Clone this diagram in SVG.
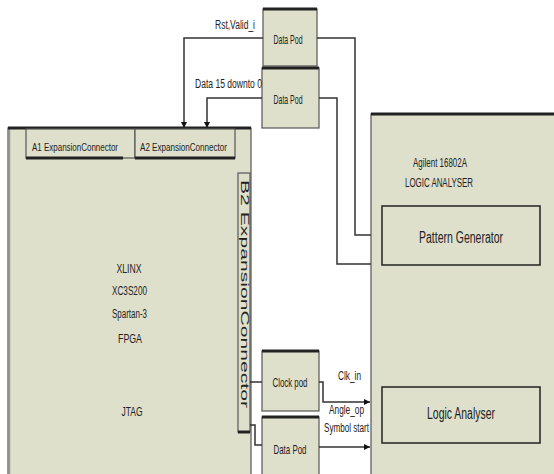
<svg xmlns="http://www.w3.org/2000/svg" width="554" height="474" viewBox="0 0 554 474">
<defs>
<marker id="arr" viewBox="0 0 10 10" refX="10" refY="5" markerWidth="6" markerHeight="8" markerUnits="userSpaceOnUse" orient="auto">
<path d="M0,0 L10,5 L0,10 z" fill="#111"/>
</marker>
</defs>
<style>
.box{fill:#dfe0cb;stroke:#555;stroke-width:1.2}
.inner{fill:#dfe0cb;stroke:#222;stroke-width:1.5}
.top{stroke:#222;stroke-width:3}
.t{font-family:"Liberation Sans",Arial,sans-serif;fill:#222}
.c{stroke:#333;stroke-width:1.5;fill:none}
</style>
<rect width="554" height="474" fill="#fff"/>

<g id="fpga">
<rect class="box" x="8" y="128" width="243" height="350"/>
<line x1="9.5" y1="128" x2="9.5" y2="474" stroke="#999" stroke-width="1.5"/>
<line class="top" x1="8" y1="128" x2="251" y2="128" stroke-width="2"/>
<text class="t" x="129" y="273" font-size="12" text-anchor="middle" textLength="25" lengthAdjust="spacingAndGlyphs">XLINX</text>
<text class="t" x="112" y="295" font-size="12" textLength="35" lengthAdjust="spacingAndGlyphs">XC3S200</text>
<text class="t" x="112" y="318" font-size="12" textLength="35" lengthAdjust="spacingAndGlyphs">Spartan-3</text>
<text class="t" x="130" y="343" font-size="12" text-anchor="middle" textLength="24" lengthAdjust="spacingAndGlyphs">FPGA</text>
<text class="t" x="132" y="416" font-size="12" text-anchor="middle" textLength="21" lengthAdjust="spacingAndGlyphs">JTAG</text>
</g>

<g id="a1">
<rect class="box" x="26" y="129" width="109" height="29"/>
<line class="top" x1="26" y1="158" x2="123" y2="158" stroke-width="2"/>
<text class="t" x="32" y="151" font-size="10" textLength="86" lengthAdjust="spacingAndGlyphs">A1 ExpansionConnector</text>
</g>

<g id="a2">
<rect class="box" x="135" y="129" width="100" height="29"/>
<line class="top" x1="135" y1="158" x2="235" y2="158" stroke-width="2"/>
<text class="t" x="140" y="151" font-size="10" textLength="87" lengthAdjust="spacingAndGlyphs">A2 ExpansionConnector</text>
</g>

<g id="b2">
<rect class="box" x="238" y="173" width="12" height="259"/>
<line class="top" x1="238" y1="432" x2="250" y2="432" stroke-width="2"/>
<text class="t" transform="translate(240.5,294) rotate(90) scale(2,1)" x="0" y="0" font-size="10" text-anchor="middle" textLength="114" lengthAdjust="spacingAndGlyphs">B2 ExpansionConnector</text>
</g>

<g id="pod1">
<rect class="box" x="263" y="9" width="54" height="57"/>
<line class="top" x1="263" y1="9" x2="317" y2="9"/>
<text class="t" x="288" y="44" font-size="13" text-anchor="middle" textLength="29" lengthAdjust="spacingAndGlyphs">Data Pod</text>
</g>

<g id="pod2">
<rect class="box" x="262" y="68" width="57" height="60"/>
<line class="top" x1="262" y1="68" x2="319" y2="68"/>
<text class="t" x="288" y="104" font-size="13" text-anchor="middle" textLength="29" lengthAdjust="spacingAndGlyphs">Data Pod</text>
</g>

<g id="clockpod">
<rect class="box" x="262" y="351" width="57" height="60"/>
<line class="top" x1="262" y1="351" x2="319" y2="351"/>
<text class="t" x="290" y="387" font-size="13" text-anchor="middle" textLength="35" lengthAdjust="spacingAndGlyphs">Clock pod</text>
</g>

<g id="pod3">
<rect class="box" x="262" y="417" width="57" height="62"/>
<line class="top" x1="262" y1="417" x2="319" y2="417"/>
<text class="t" x="290" y="454" font-size="13" text-anchor="middle" textLength="33" lengthAdjust="spacingAndGlyphs">Data Pod</text>
</g>

<g id="analyser">
<rect class="box" x="371" y="114" width="190" height="370"/>
<line class="top" x1="371" y1="114" x2="554" y2="114" stroke="#444"/>
<text class="t" x="440" y="167" font-size="12" text-anchor="middle" textLength="54" lengthAdjust="spacingAndGlyphs">Agilent 16802A</text>
<text class="t" x="439" y="187" font-size="12" text-anchor="middle" textLength="68" lengthAdjust="spacingAndGlyphs">LOGIC ANALYSER</text>
</g>

<g id="patterngen">
<rect class="inner" x="382" y="206" width="158" height="59"/>
<text class="t" x="461" y="243" font-size="16" text-anchor="middle" textLength="84" lengthAdjust="spacingAndGlyphs">Pattern Generator</text>
</g>

<g id="logicanalyser">
<rect class="inner" x="382" y="387" width="158" height="56"/>
<text class="t" x="461" y="419" font-size="16" text-anchor="middle" textLength="68" lengthAdjust="spacingAndGlyphs">Logic Analyser</text>
</g>

<g id="connectors">
<polyline class="c" points="263,38 184,38 184,128" marker-end="url(#arr)"/>
<polyline class="c" points="262,98 207,98 207,128" marker-end="url(#arr)"/>
<polyline class="c" points="317,38 355,38 355,235 371,235"/>
<polyline class="c" points="319,98 337,98 337,264 371,264"/>
<line class="c" x1="250" y1="382" x2="262" y2="382"/>
<polyline class="c" points="250,425 255,425 255,445 262,445"/>
<polyline class="c" points="319,382 323,382 323,402 370,402" marker-end="url(#arr)"/>
<polyline class="c" points="319,447 370,447" marker-end="url(#arr)"/>
<text class="t" x="215" y="29" font-size="12" textLength="40" lengthAdjust="spacingAndGlyphs">Rst,Valid_i</text>
<text class="t" x="195" y="88" font-size="12" textLength="67" lengthAdjust="spacingAndGlyphs">Data 15 downto 0</text>
<text class="t" x="338" y="380" font-size="12" textLength="23" lengthAdjust="spacingAndGlyphs">Clk_in</text>
<text class="t" x="329" y="414" font-size="12" textLength="35" lengthAdjust="spacingAndGlyphs">Angle_op</text>
<text class="t" x="324" y="432" font-size="12" textLength="45" lengthAdjust="spacingAndGlyphs">Symbol start</text>
</g>
</svg>
